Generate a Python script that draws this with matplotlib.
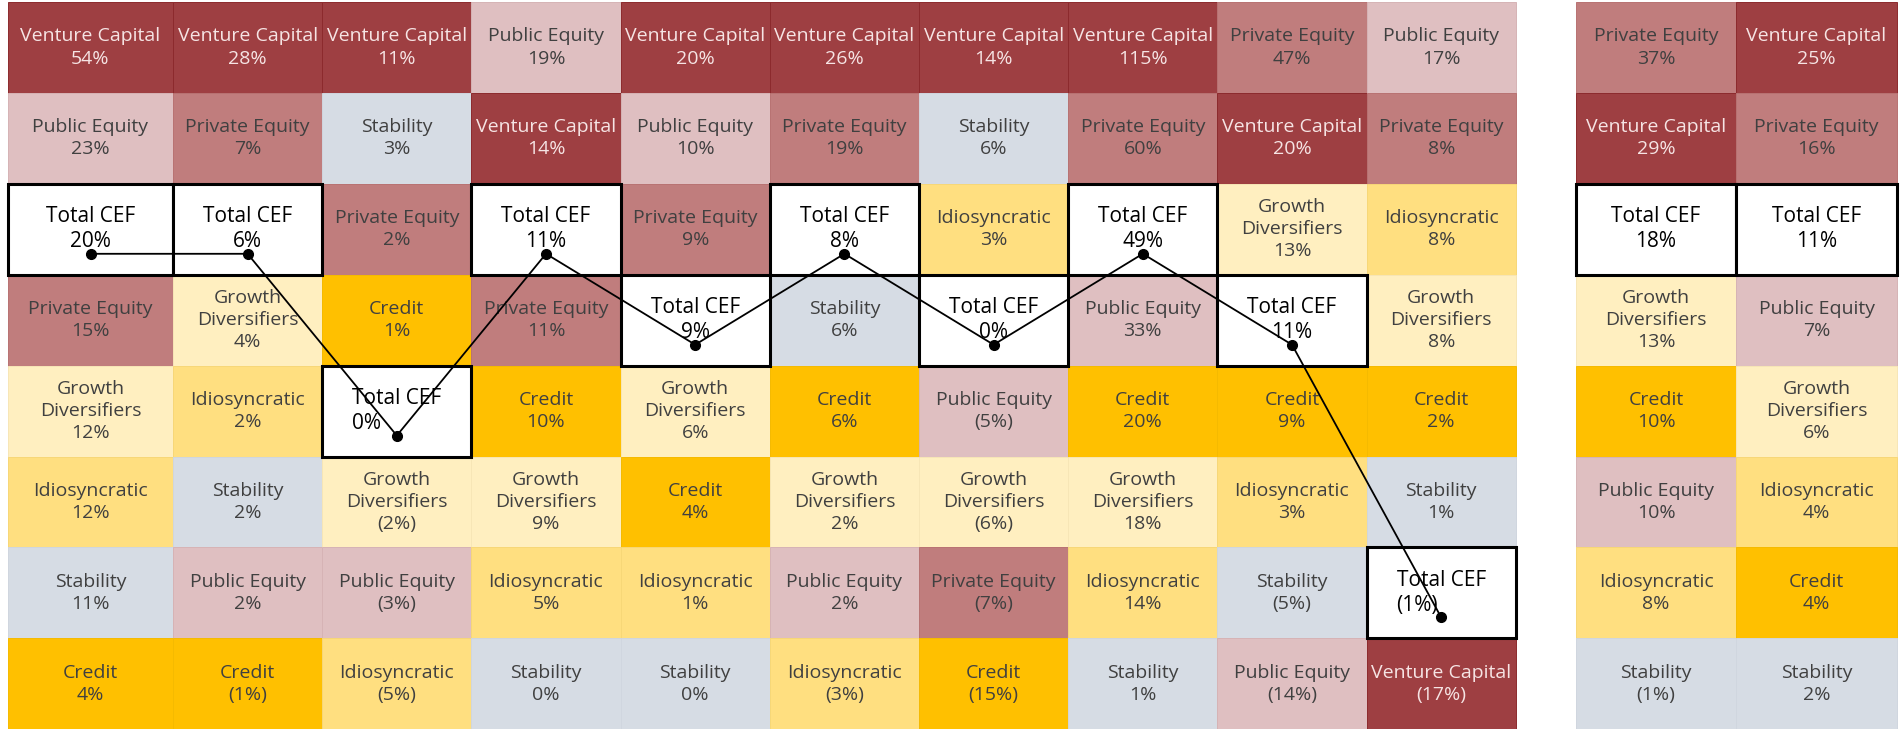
#!/usr/bin/env python3
"""Ranking of asset class returns by period, with the Total CEF path."""

import matplotlib.pyplot as plt
from matplotlib.patches import Rectangle

VC = "Venture Capital"
PE = "Private Equity"
PUB = "Public Equity"
STAB = "Stability"
IDIO = "Idiosyncratic"
CRED = "Credit"
GD = "Growth Diversifiers"
TOT = "Total CEF"

# ranked from best (top) to worst (bottom), one list per column
classes_1 = [VC, PUB, TOT, PE, GD, IDIO, STAB, CRED]
returns_1 = [54, 23, 20, 15, 12, 12, 11, 4]
classes_2 = [VC, PE, TOT, GD, IDIO, STAB, PUB, CRED]
returns_2 = [28, 7, 6, 4, 2, 2, 2, -1]
classes_3 = [VC, STAB, PE, CRED, TOT, GD, PUB, IDIO]
returns_3 = [11, 3, 2, 1, 0, -2, -3, -5]
classes_4 = [PUB, VC, TOT, PE, CRED, GD, IDIO, STAB]
returns_4 = [19, 14, 11, 11, 10, 9, 5, 0]
classes_5 = [VC, PUB, PE, TOT, GD, CRED, IDIO, STAB]
returns_5 = [20, 10, 9, 9, 6, 4, 1, 0]
classes_6 = [VC, PE, TOT, STAB, CRED, GD, PUB, IDIO]
returns_6 = [26, 19, 8, 6, 6, 2, 2, -3]
classes_7 = [VC, STAB, IDIO, TOT, PUB, GD, PE, CRED]
returns_7 = [14, 6, 3, 0, -5, -6, -7, -15]
classes_8 = [VC, PE, TOT, PUB, CRED, GD, IDIO, STAB]
returns_8 = [115, 60, 49, 33, 20, 18, 14, 1]
classes_9 = [PE, VC, GD, TOT, CRED, IDIO, STAB, PUB]
returns_9 = [47, 20, 13, 11, 9, 3, -5, -14]
classes_10 = [PUB, PE, IDIO, GD, CRED, STAB, TOT, VC]
returns_10 = [17, 8, 8, 8, 2, 1, -1, -17]
# summary columns on the right
classes_11 = [PE, VC, TOT, GD, CRED, PUB, IDIO, STAB]
returns_11 = [37, 29, 18, 13, 10, 10, 8, -1]
classes_12 = [VC, PE, TOT, PUB, GD, IDIO, CRED, STAB]
returns_12 = [25, 16, 11, 7, 6, 4, 4, 2]

# Total CEF label printed left-aligned in these columns (1-based)
left_aligned_cols = [3, 10]

FILL = {
    VC: "#9E3F42", PE: "#C07D7D", PUB: "#DFBFC1", STAB: "#D6DCE4",
    IDIO: "#FFDF80", CRED: "#FFC000", GD: "#FFEFC0", TOT: "#FFFFFF",
}
EDGE = {
    VC: "#8C2A2D", PE: "#B87272", PUB: "#D6B3B5", STAB: "#D0D6DF",
    IDIO: "#F7D777", CRED: "#F5BA00", GD: "#F7E6B6", TOT: "#000000",
}
TEXT = {VC: "#F6E4E4", TOT: "#000000"}


def fmt(v):
    return f"({abs(v)}%)" if v < 0 else f"{v}%"


def main():
    plt.rcParams["font.family"] = ["Open Sans", "DejaVu Sans"]
    classes = [classes_1, classes_2, classes_3, classes_4, classes_5, classes_6,
               classes_7, classes_8, classes_9, classes_10, classes_11, classes_12]
    returns = [returns_1, returns_2, returns_3, returns_4, returns_5, returns_6,
               returns_7, returns_8, returns_9, returns_10, returns_11, returns_12]

    # layout in pixels
    widths = [165] + [149.2] * 9 + [160.5, 160.5]
    gaps = [0] * 10 + [60, 0]
    lefts = []
    x = 8
    for w, g in zip(widths, gaps):
        x += g
        lefts.append(x)
        x += w
    top, row_h = 2, 90.9

    fig = plt.figure(figsize=(19.03, 7.29), dpi=100)
    ax = fig.add_axes([0, 0, 1, 1])
    ax.set_xlim(0, 1903)
    ax.set_ylim(729, 0)
    ax.axis("off")

    path_x, path_y = [], []
    for c, (names, vals) in enumerate(zip(classes, returns)):
        x0, w = lefts[c], widths[c]
        for r, (name, v) in enumerate(zip(names, vals)):
            y0 = top + r * row_h
            tot = name == TOT
            ax.add_patch(Rectangle((x0, y0), w, row_h, facecolor=FILL[name],
                                   edgecolor=EDGE[name], lw=2.2 if tot else 0.7,
                                   zorder=3 if tot else 1))
            label = name.replace("Growth ", "Growth\n")
            ax.text(x0 + w / 2, y0 + row_h / 2, f"{label}\n{fmt(v)}",
                    ha="center", va="center", fontsize=15 if tot else 14,
                    linespacing=1.25 if tot else 1.3,
                    color=TEXT.get(name, "#404040"),
                    multialignment="left" if tot and (c + 1) in left_aligned_cols else "center",
                    zorder=4)
            if tot and c < 10:
                path_x.append(x0 + w / 2)
                path_y.append(y0 + row_h * 0.77)

    ax.plot(path_x, path_y, color="black", lw=1.3, marker="o", ms=7, zorder=5)

    fig.savefig("out.png", dpi=100, facecolor="white")
    plt.close(fig)


if __name__ == "__main__":
    main()
